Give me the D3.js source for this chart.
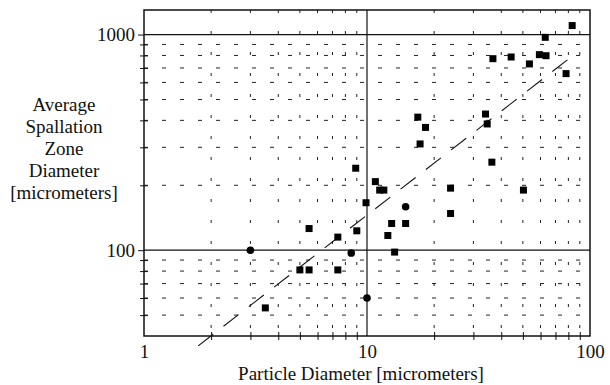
<!DOCTYPE html>
<html lang="en">
<head>
	<title>Spallation Zone vs Particle Diameter</title>
	<script src="https://d3js.org/d3.v7.min.js" charset="utf-8"></script>
	<style>
		body { margin: 0; background: #fff; }
		svg text { font-family: "Liberation Serif", "Times New Roman", serif; fill: #111; }
	</style>
</head>
<body>
	<div id="container"></div>

	<script>
		// particle diameter (x) and average spallation zone diameter (y), micrometers
		var squareX = [3.5, 5.0, 5.5, 5.5, 7.4, 7.4, 9.0, 8.9, 9.9, 10.9, 11.4, 11.9, 12.4, 12.9, 13.3, 14.9,
		               16.9, 17.3, 18.3, 23.7, 23.7, 34, 34.6, 36.3, 36.7, 44.3, 50.3, 53.5, 59.3, 63.5, 63, 78.1, 83.2];
		var squareY = [54, 81, 81, 126, 81, 115, 123, 240, 166, 208, 190, 190, 117, 133, 98, 133,
		               414, 311, 371, 194, 148, 428, 385, 256, 773, 787, 190, 731, 807, 798, 971, 659, 1101];
		var circleX = [3, 8.5, 10, 14.9];
		var circleY = [100, 97, 60, 159];

		// dashed trend line end points
		var fitX = [1.75, 84];
		var fitY = [36, 800];

		var xMajor = [1, 10, 100],
			xMinor = [2, 3, 4, 5, 6, 7, 8, 9, 20, 30, 40, 50, 60, 70, 80, 90],
			yMajor = [100, 1000],
			yMinor = [50, 60, 70, 80, 90, 200, 300, 400, 500, 600, 700, 800, 900];

		var svgWidth = 610,
			svgHeight = 385,
			margin = {top: 10, right: 20, bottom: 49, left: 144},
			width = svgWidth - margin.left - margin.right,
			height = svgHeight - margin.top - margin.bottom;

		var svg = d3.select("#container")
			.append("svg")
			.attr("width", svgWidth)
			.attr("height", svgHeight);

		var g = svg.append("g")
			.attr("transform", "translate(" + margin.left + "," + margin.top + ")");

		var x = d3.scaleLog().domain([1, 100]).range([0, width]);
		var y = d3.scaleLog().domain([40, 1300]).range([height, 0]);

		// dotted minor grid
		g.selectAll(".vminor")
			.data(xMinor)
			.enter()
			.append("line")
			.attr("x1", function(d) { return x(d); })
			.attr("x2", function(d) { return x(d); })
			.attr("y1", 0)
			.attr("y2", height)
			.attr("stroke", "#222")
			.attr("stroke-width", 1)
			.attr("stroke-dasharray", "3,18");

		g.selectAll(".hminor")
			.data(yMinor)
			.enter()
			.append("line")
			.attr("x1", 0)
			.attr("x2", width)
			.attr("y1", function(d) { return y(d); })
			.attr("y2", function(d) { return y(d); })
			.attr("stroke", "#222")
			.attr("stroke-width", 1)
			.attr("stroke-dasharray", "4,14");

		// solid major grid
		g.selectAll(".vmajor")
			.data([10])
			.enter()
			.append("line")
			.attr("x1", function(d) { return x(d); })
			.attr("x2", function(d) { return x(d); })
			.attr("y1", 0)
			.attr("y2", height)
			.attr("stroke", "#111")
			.attr("stroke-width", 1.2);

		g.selectAll(".hmajor")
			.data(yMajor)
			.enter()
			.append("line")
			.attr("x1", 0)
			.attr("x2", width)
			.attr("y1", function(d) { return y(d); })
			.attr("y2", function(d) { return y(d); })
			.attr("stroke", "#111")
			.attr("stroke-width", 1.2);

		// frame
		g.append("rect")
			.attr("width", width)
			.attr("height", height)
			.attr("fill", "none")
			.attr("stroke", "#111")
			.attr("stroke-width", 1.5);

		// bottom axis: labels, then crossing minor ticks
		var xAxis = g.append("g")
			.attr("transform", "translate(0," + height + ")")
			.call(d3.axisBottom(x).tickValues(xMajor).tickFormat(d3.format("d")).tickSize(0).tickPadding(9));
		xAxis.select(".domain").remove();
		xAxis.selectAll("text").attr("font-size", 19);

		var xTicks = g.append("g")
			.attr("transform", "translate(0," + (height - 4) + ")")
			.call(d3.axisBottom(x).tickValues(xMinor).tickSize(8).tickFormat(""));
		xTicks.select(".domain").remove();
		xTicks.selectAll("line").attr("stroke", "#111");

		// left axis
		var yAxis = g.append("g")
			.call(d3.axisLeft(y).tickValues(yMajor).tickFormat(d3.format("d")).tickSize(6).tickPadding(3));
		yAxis.select(".domain").remove();
		yAxis.selectAll("line").attr("stroke", "#111");
		yAxis.selectAll("text").attr("font-size", 19);

		var yTicks = g.append("g")
			.attr("transform", "translate(4,0)")
			.call(d3.axisLeft(y).tickValues(yMinor).tickSize(8).tickFormat(""));
		yTicks.select(".domain").remove();
		yTicks.selectAll("line").attr("stroke", "#111");

		// dashed trend line
		var fitLine = d3.line()
			.x(function(d) { return x(d[0]); })
			.y(function(d) { return y(d[1]); });

		g.append("path")
			.datum(d3.zip(fitX, fitY))
			.attr("d", fitLine)
			.attr("fill", "none")
			.attr("stroke", "#111")
			.attr("stroke-width", 1.1)
			.attr("stroke-dasharray", "19,13");

		// data points
		g.selectAll(".sq")
			.data(d3.zip(squareX, squareY))
			.enter()
			.append("rect")
			.attr("x", function(d) { return x(d[0]) - 3.5; })
			.attr("y", function(d) { return y(d[1]) - 3.5; })
			.attr("width", 7)
			.attr("height", 7)
			.attr("fill", "#000");

		g.selectAll(".ci")
			.data(d3.zip(circleX, circleY))
			.enter()
			.append("circle")
			.attr("cx", function(d) { return x(d[0]); })
			.attr("cy", function(d) { return y(d[1]); })
			.attr("r", 3.8)
			.attr("fill", "#000");

		// axis titles
		svg.append("text")
			.attr("x", 361)
			.attr("y", 380)
			.attr("text-anchor", "middle")
			.attr("font-size", 19)
			.text("Particle Diameter [micrometers]");

		var yTitle = ["Average", "Spallation", "Zone", "Diameter", "[micrometers]"];
		svg.append("text")
			.attr("text-anchor", "middle")
			.attr("font-size", 19)
			.selectAll("tspan")
			.data(yTitle)
			.enter()
			.append("tspan")
			.attr("x", 64)
			.attr("y", function(d, i) { return 111 + i * 22; })
			.text(function(d) { return d; });
	</script>
</body>
</html>
